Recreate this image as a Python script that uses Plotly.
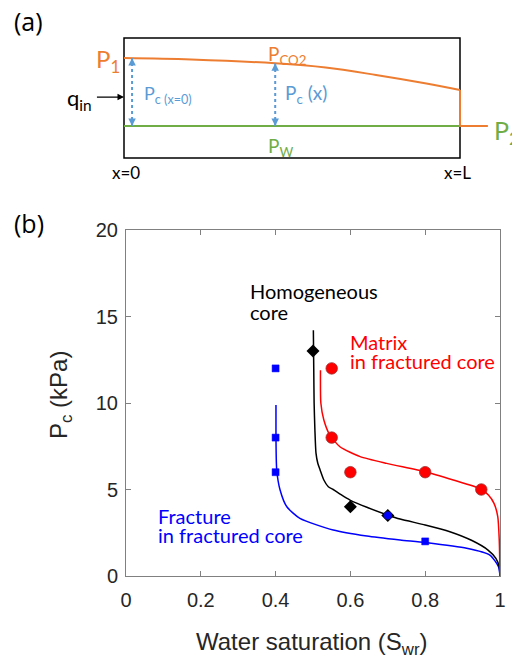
import plotly.graph_objects as go

# ---------------- Panel (a) schematic data (x in units of L, pressure in box units) ----------------
schem_x = [0.0, 0.2, 0.45, 0.6, 0.75, 0.9, 1.0]
p_co2 = [0.833, 0.821, 0.789, 0.754, 0.692, 0.621, 0.567]
p_w = 0.267
p_out_x = [1.0, 1.0, 1.083]
arrow_x = [0.024, 0.45]

# ---------------- Panel (b) data ----------------
homog_sw = [0.5, 0.6, 0.7]
homog_pc = [13.0, 4.0, 3.5]
frac_sw = [0.4, 0.4, 0.4, 0.8]
frac_pc = [12.0, 8.0, 6.0, 2.0]
matrix_sw = [0.55, 0.55, 0.6, 0.8, 0.95]
matrix_pc = [12.0, 8.0, 6.0, 6.0, 5.0]
extra_sw = [0.7]
extra_pc = [3.5]

homog_fit_sw = [0.501, 0.502, 0.503, 0.505, 0.508, 0.513, 0.519, 0.529, 0.541, 0.554, 0.575, 0.599,
                0.644, 0.699, 0.733, 0.8, 0.866, 0.925, 0.968, 0.989, 0.998, 1.0]
homog_fit_pc = [14.2, 12.0, 10.0, 8.5, 7.1, 6.5, 6.13, 5.55, 5.16, 5.0, 4.7, 4.39,
                3.97, 3.53, 3.29, 2.95, 2.56, 2.05, 1.5, 1.02, 0.54, 0.0]
matrix_fit_sw = [0.520, 0.521, 0.529, 0.545, 0.572, 0.626, 0.697, 0.8, 0.875, 0.949, 0.969, 0.984,
                 0.994, 0.998, 1.0]
matrix_fit_pc = [11.9, 10.0, 9.02, 8.15, 7.47, 6.9, 6.51, 6.03, 5.55, 5.03, 4.68, 4.2, 3.43, 2.08, 0.0]
frac_fit_sw = [0.401, 0.401, 0.403, 0.412, 0.43, 0.465, 0.554, 0.644, 0.733, 0.8, 0.911, 0.973, 0.996, 1.0]
frac_fit_pc = [9.88, 8.05, 6.13, 4.97, 4.0, 3.33, 2.66, 2.31, 2.08, 1.93, 1.6, 1.21, 0.54, 0.0]

x_ticks = [0, 0.2, 0.4, 0.6, 0.8, 1]
x_ticktext = ["0", "0.2", "0.4", "0.6", "0.8", "1"]
y_ticks = [0, 5, 10, 15, 20]
y_ticktext = ["0", "5", "10", "15", "20"]

ORANGE = "#ED7D31"
GREEN = "#70AD47"
LBLUE = "#5B9BD5"
SANS = "Lato"
AX = "Liberation Sans"

W, H = 512, 664
fig = go.Figure()

# ---- panel (a) traces ----
fig.add_trace(go.Scatter(x=[schem_x[0], schem_x[-1]], y=[p_w, p_w], mode="lines",
                         line=dict(color=GREEN, width=2), xaxis="x2", yaxis="y2", hoverinfo="skip"))
fig.add_trace(go.Scatter(x=schem_x, y=p_co2, mode="lines", line=dict(color=ORANGE, width=2, shape="spline"),
                         xaxis="x2", yaxis="y2", hoverinfo="skip"))
fig.add_trace(go.Scatter(x=p_out_x, y=[p_co2[-1], p_w, p_w], mode="lines",
                         line=dict(color=ORANGE, width=2), xaxis="x2", yaxis="y2", hoverinfo="skip"))
for ax_x in arrow_x:
    top = p_co2[schem_x.index(ax_x)] if ax_x in schem_x else p_co2[0]
    fig.add_trace(go.Scatter(x=[ax_x, ax_x], y=[p_w, top], mode="lines",
                             line=dict(color=LBLUE, width=2, dash="dot"),
                             xaxis="x2", yaxis="y2", hoverinfo="skip"))

fig.add_shape(type="rect", xref="x2", yref="y2", x0=0, x1=1, y0=0, y1=1, layer="below",
              line=dict(color="black", width=1.5))

# ---- panel (b) traces ----
fig.add_trace(go.Scatter(x=frac_fit_sw, y=frac_fit_pc, mode="lines", line=dict(color="#0000FF", width=1.5, shape="spline", smoothing=0.6)))
fig.add_trace(go.Scatter(x=homog_fit_sw, y=homog_fit_pc, mode="lines", line=dict(color="black", width=1.5, shape="spline", smoothing=0.6)))
fig.add_trace(go.Scatter(x=matrix_fit_sw, y=matrix_fit_pc, mode="lines", line=dict(color="#FF0000", width=1.5, shape="spline", smoothing=0.6)))
fig.add_trace(go.Scatter(x=frac_sw, y=frac_pc, mode="markers",
                         marker=dict(symbol="square", size=7, color="#0000FF",
                                     line=dict(color="#0000FF", width=0.5))))
fig.add_trace(go.Scatter(x=matrix_sw, y=matrix_pc, mode="markers",
                         marker=dict(symbol="circle", size=11.5, color="#FF0000",
                                     line=dict(color="#A03030", width=0.8))))
fig.add_trace(go.Scatter(x=homog_sw, y=homog_pc, mode="markers",
                         marker=dict(symbol="diamond", size=10, color="black")))
fig.add_trace(go.Scatter(x=extra_sw, y=extra_pc, mode="markers",
                         marker=dict(symbol="circle", size=8, color="#0000FF",
                                     line=dict(color="#202060", width=0.5))))

ann = []
def T(text, x, y, size, color, xanchor="left", xref="x2", yref="y2", font=SANS, yanchor="middle", angle=0):
    ann.append(dict(text=text, x=x, y=y, xref=xref, yref=yref, showarrow=False,
                    xanchor=xanchor, yanchor=yanchor, textangle=angle,
                    font=dict(family=font, size=size, color=color)))

# panel labels
T("(a)", 12 / W, 1 - 21 / H, 25, "black", xref="paper", yref="paper", font="Open Sans")
T("(b)", 12 / W, 1 - 223 / H, 25, "black", xref="paper", yref="paper", font="Open Sans")

# schematic labels
T("P<sub>1</sub>", -0.005, 0.815, 24, ORANGE, xanchor="right")
T("P<sub>CO2</sub>", 0.424, 0.86, 19, ORANGE)
T("P<sub>c (x=0)</sub>", 0.055, 0.53, 18, LBLUE)
T("P<sub>c</sub> (x)", 0.472, 0.53, 19, LBLUE)
T("P<sub>W</sub>", 0.424, 0.09, 19, GREEN)
T("P<sub>2</sub>", 1.096, 0.215, 25, GREEN)
T("q<sub>in</sub>", -0.09, 0.49, 22, "black", xanchor="right")
T("x=0", 0.006, -0.117, 17, "black", xanchor="center")
T("x=L", 0.994, -0.117, 17, "black", xanchor="center")

# arrows
ann.append(dict(x=0, y=0.508, ax=-0.085, ay=0.508, xref="x2", yref="y2", axref="x2", ayref="y2",
                showarrow=True, arrowhead=2, arrowsize=1, arrowwidth=1.3, arrowcolor="black", text=""))
for ax_x in arrow_x:
    top = p_co2[schem_x.index(ax_x)] if ax_x in schem_x else p_co2[0]
    ann.append(dict(x=ax_x, y=top, ax=0, ay=9, xref="x2", yref="y2", showarrow=True, arrowhead=2,
                    arrowsize=1, arrowwidth=1.5, arrowcolor=LBLUE, text="", standoff=0))
    ann.append(dict(x=ax_x, y=p_w, ax=0, ay=-9, xref="x2", yref="y2", showarrow=True, arrowhead=2,
                    arrowsize=1, arrowwidth=1.5, arrowcolor=LBLUE, text="", standoff=0))

# panel (b) labels
T("Homogeneous", 0.326, 16.45, 20, "black", xref="x", yref="y")
T("core", 0.326, 15.25, 20, "black", xref="x", yref="y")
T("Matrix", 0.594, 13.55, 20, "#FF0000", xref="x", yref="y")
T("in fractured core", 0.594, 12.45, 20, "#FF0000", xref="x", yref="y")
T("Fracture", 0.080, 3.45, 20, "#0000FF", xref="x", yref="y")
T("in fractured core", 0.080, 2.35, 20, "#0000FF", xref="x", yref="y")

# axis titles
T("Water saturation (S<sub>wr</sub>)", 312 / W, 1 - 643 / H, 24, "#262626", xanchor="center",
  xref="paper", yref="paper", font=AX)
T("P<sub>c</sub> (kPa)", 60 / W, 1 - 395 / H, 24, "#262626", xanchor="center",
  xref="paper", yref="paper", font=AX, angle=-90)

box_w = 336.0
fig.update_layout(
    width=W, height=H, margin=dict(l=0, r=0, t=0, b=0, pad=0), autosize=False,
    paper_bgcolor="white", plot_bgcolor="rgba(0,0,0,0)", showlegend=False,
    annotations=ann,
    xaxis=dict(domain=[126 / W, 500 / W], range=[0, 1], tickvals=x_ticks, ticktext=x_ticktext,
               ticks="inside", ticklen=5, tickcolor="#808080", showline=True, mirror="ticks",
               linecolor="#808080", linewidth=1, showgrid=False, zeroline=False, automargin=False,
               tickfont=dict(family=AX, size=20, color="#262626"), ticklabelstandoff=6, anchor="y"),
    yaxis=dict(domain=[1 - 576 / H, 1 - 230 / H], range=[0, 20], tickvals=y_ticks, ticktext=y_ticktext,
               ticks="inside", ticklen=5, tickcolor="#808080", showline=True, mirror="ticks",
               linecolor="#808080", linewidth=1, showgrid=False, zeroline=False, automargin=False,
               tickfont=dict(family=AX, size=20, color="#262626"), ticklabelstandoff=3, anchor="x"),
    xaxis2=dict(domain=[0, 1], range=[-124 / box_w, (W - 124) / box_w], visible=False, anchor="y2"),
    yaxis2=dict(domain=[1 - 186 / H, 1], range=[(158 - 186) / 120, 158 / 120], visible=False, anchor="x2"),
)

fig.write_html("out.html", config={"displayModeBar": False},
               post_script=("var s=document.documentElement.style;s.margin='0';s.padding='0';s.overflow='hidden';"
                            "var b=document.body.style;b.margin='0';b.padding='0';b.overflow='hidden';"
                            "b.width='512px';b.height='664px';"))
